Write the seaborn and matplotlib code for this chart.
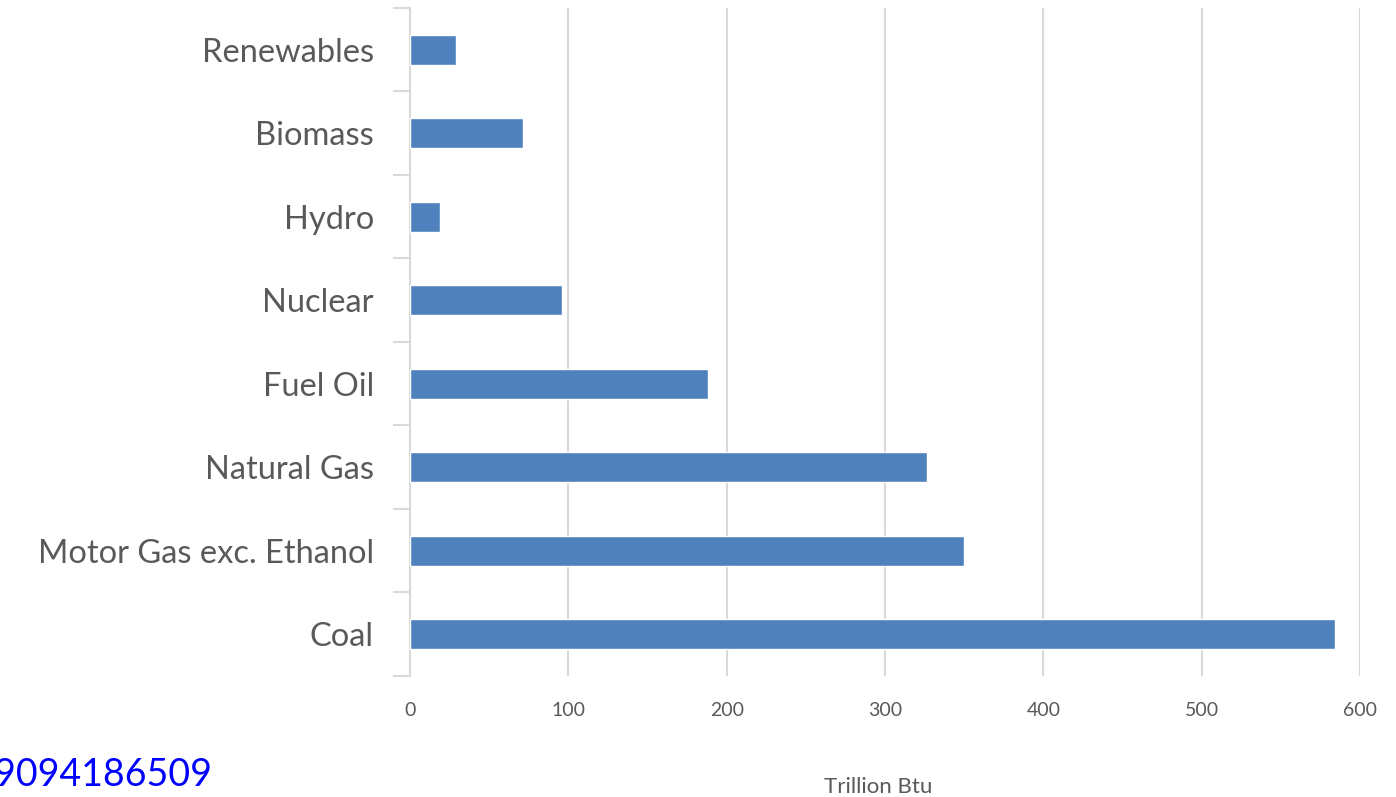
import matplotlib
matplotlib.use("Agg")
import matplotlib.pyplot as plt
import seaborn as sns
import pandas as pd
import numpy as np

# data, top to bottom
sources = ["Renewables", "Biomass", "Hydro", "Nuclear", "Fuel Oil",
           "Natural Gas", "Motor Gas exc. Ethanol", "Coal"]
trillion_btu = [29, 71.5, 19, 96, 188, 326.5, 350, 584.5]
x_ticks = [0, 100, 200, 300, 400, 500, 600]

df = pd.DataFrame({"source": sources, "value": trillion_btu})

sns.set_style("white")
plt.rcParams["font.family"] = ["Lato", "DejaVu Sans"]

text_grey = "#595959"
grid_grey = "#D9D9D9"

fig = plt.figure(figsize=(13.96, 7.97), dpi=100)
ax = fig.add_axes([0.2937, 0.152, 0.6805, 0.838])

sns.barplot(data=df, x="value", y="source", orient="h", color="#4F81BD",
            saturation=1, width=0.36, ax=ax, zorder=3)

ax.set_xlim(0, 600)
ax.set_ylim(len(sources) - 0.5, -0.5)
ax.set_xticks(x_ticks)
ax.set_xticklabels([str(t) for t in x_ticks])
ax.xaxis.grid(True, color=grid_grey, linewidth=1.5, zorder=0)
ax.yaxis.grid(False)

# category boundary ticks on the left axis
ax.set_yticks(np.arange(len(sources) + 1) - 0.5, minor=True)
ax.tick_params(axis="y", which="minor", length=12, width=1.5, color=grid_grey, left=True)
ax.tick_params(axis="y", which="major", length=0, pad=26, labelsize=23.5, labelcolor=text_grey)
ax.tick_params(axis="x", length=0, pad=19, labelsize=14, labelcolor=text_grey)

for side in ["top", "right", "bottom"]:
    ax.spines[side].set_visible(False)
ax.spines["left"].set_color(grid_grey)
ax.spines["left"].set_linewidth(1.5)

ax.set_xlabel("")
ax.set_ylabel("")

fig.text(0.629, 0.0, "Trillion Btu", ha="center", va="bottom",
         fontsize=16, color=text_grey)
fig.text(-0.004, 0.005, "9094186509", ha="left", va="bottom",
         fontsize=27, color="#0000FF")

fig.savefig("out.png", dpi=100)
